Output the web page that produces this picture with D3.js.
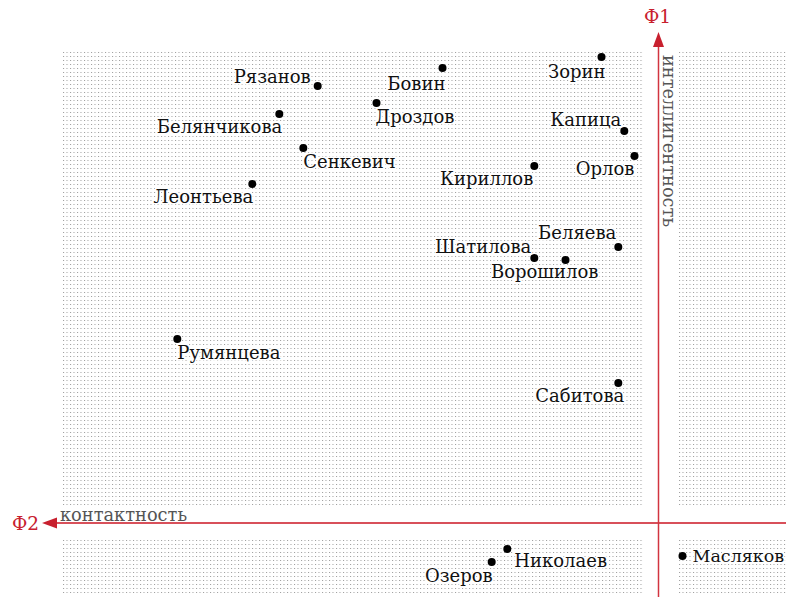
<!DOCTYPE html>
<html><head><meta charset="utf-8">
<script src="https://cdn.jsdelivr.net/npm/d3@7"></script>
<style>html,body{margin:0;padding:0;background:#fff}</style>
</head><body>
<script>
// Data: factor loadings (Ф2 = контактность, Ф1 = интеллигентность)
const names = ["Зорин","Бовин","Рязанов","Дроздов","Белянчикова","Капица","Сенкевич","Орлов","Кириллов","Леонтьева","Беляева","Шатилова","Ворошилов","Румянцева","Сабитова","Николаев","Озеров","Масляков"];
const f2 = [0.095,0.360,0.568,0.470,0.632,0.057,0.592,0.040,0.207,0.677,0.067,0.207,0.155,0.802,0.067,0.252,0.278,-0.040];
const f1 = [0.932,0.910,0.874,0.840,0.818,0.784,0.750,0.734,0.714,0.678,0.552,0.530,0.526,0.368,0.280,-0.052,-0.078,-0.066];
// label placement (layout): anchor, dx, dy relative to point
const labelPlace = [
  ["end",4,21],["end",3,22],["end",-7,-3],["start",-1,20],["end",3,19],["end",-3,-5],
  ["start",0,20],["end",0,19],["end",-1,19],["end",1,19],["end",-2,-8],["end",-3,-5],
  ["end",33,18],["start",0,20],["end",6,19],["start",7,18],["end",1,20],["start",10,6]
];

const W = 786, H = 597;
const svg = d3.select("body").append("svg").attr("width", W).attr("height", H);
const x = d3.scaleLinear().domain([0, 1]).range([658.5, 58.5]);
const y = d3.scaleLinear().domain([0, 1]).range([523, 23]);

const defs = svg.append("defs");
const pat = defs.append("pattern").attr("id","dots").attr("patternUnits","userSpaceOnUse")
  .attr("width",3.5).attr("height",4);
pat.append("rect").attr("x",0).attr("y",0).attr("width",1).attr("height",1).attr("fill","#9c9c9c");

const panels = [[62,51,644,506],[679,51,786,506],[62,540,644,595],[679,538,786,595]];
svg.selectAll("rect.panel").data(panels).join("rect").attr("class","panel")
  .attr("x",d=>d[0]).attr("y",d=>d[1]).attr("width",d=>d[2]-d[0]).attr("height",d=>d[3]-d[1])
  .attr("fill","url(#dots)");

const red = "#c8202e";
const x0 = x(0), y0 = y(0);
// axes
svg.append("line").attr("x1",56).attr("x2",W).attr("y1",y0).attr("y2",y0)
  .attr("stroke","#d8505a").attr("stroke-width",2);
svg.append("line").attr("x1",x0).attr("x2",x0).attr("y1",46).attr("y2",H)
  .attr("stroke","#d23440").attr("stroke-width",1.5);
svg.append("path").attr("d",`M42,${y0}L57,${y0-5.5}L57,${y0+5.5}Z`).attr("fill",red);
svg.append("path").attr("d",`M${x0},32L${x0-5.5},47L${x0+5.5},47Z`).attr("fill",red);

const serif = "'DejaVu Serif', serif";
svg.append("text").attr("x",x0-1).attr("y",23).attr("text-anchor","middle")
  .attr("font-family",serif).attr("font-size",18.5).attr("fill",red).text("Ф1");
svg.append("text").attr("x",12).attr("y",529.5).attr("font-family",serif)
  .attr("font-size",18.5).attr("fill",red).text("Ф2");
svg.append("text").attr("x",60).attr("y",520.5).attr("font-family",serif)
  .attr("font-size",17.8).attr("fill","#555").text("контактность");
svg.append("text").attr("transform",`translate(663,55) rotate(90)`).attr("font-family",serif)
  .attr("font-size",17.8).attr("fill","#555").text("интеллигентность");

const pts = names.map((n,i)=>({n, a:f2[i], b:f1[i], p:labelPlace[i]}));
svg.selectAll("circle.pt").data(pts).join("circle").attr("class","pt")
  .attr("cx",d=>x(d.a)).attr("cy",d=>y(d.b)).attr("r",4).attr("fill","#000");
svg.selectAll("text.lbl").data(pts).join("text").attr("class","lbl")
  .attr("x",d=>x(d.a)+d.p[1]).attr("y",d=>y(d.b)+d.p[2]).attr("text-anchor",d=>d.p[0])
  .attr("font-family",serif).attr("font-size",d=>d.n==="Масляков"?17.5:18).attr("fill","#111")
  .attr("stroke","#fff").attr("stroke-width",3).attr("paint-order","stroke")
  .text(d=>d.n);
</script>
</body></html>
